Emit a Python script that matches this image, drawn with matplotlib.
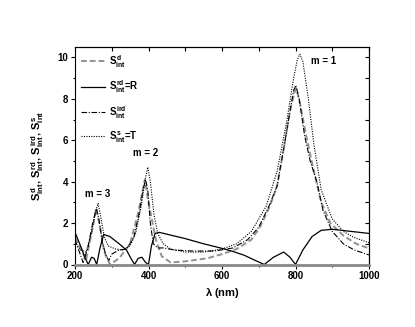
import matplotlib
matplotlib.use("Agg")
import matplotlib.pyplot as plt
from matplotlib.ticker import MultipleLocator

plt.rcParams['font.family'] = ['Liberation Sans', 'DejaVu Sans']
plt.rcParams['font.weight'] = 'bold'
plt.rcParams['mathtext.fontset'] = 'custom'
plt.rcParams['mathtext.rm'] = 'Liberation Sans:bold'
plt.rcParams['mathtext.it'] = 'Liberation Sans:bold'
plt.rcParams['mathtext.bf'] = 'Liberation Sans:bold'

# S_int^d (gray dashed)
lam_d = [200, 215, 230, 245, 258, 268, 280, 295, 320, 350, 372, 390, 400, 420, 436, 460, 500,
         560, 600, 640, 680, 703, 730, 750, 770, 785, 797, 802, 812, 828, 850, 870, 895, 930, 965, 1000]
val_d = [1.3, 0.8, 0.2, 1.5, 2.7, 1.8, 0.6, 0.0, 0.3, 1.0, 2.5, 4.1, 3.0, 1.2, 0.4, 0.1, 0.15,
         0.3, 0.5, 0.75, 1.2, 1.8, 2.8, 3.8, 5.8, 7.4, 8.3, 8.5, 7.8, 6.3, 4.5, 3.0, 2.0, 1.4, 1.0, 0.78]

# S_int^rd = R (solid black)
lam_r = [200, 215, 228, 236, 245, 252, 259, 268, 278, 295, 320, 340, 352, 362, 372, 382, 392, 400,
         408, 418, 430, 460, 500, 550, 600, 626, 660, 690, 715, 740, 768, 785, 800, 820, 845, 870,
         900, 950, 1000]
val_r = [1.55, 0.9, 0.3, 0.0, 0.35, 0.3, 0.0, 0.8, 1.45, 1.35, 1.0, 0.7, 0.3, 0.0, 0.3, 0.35, 0.1, 0.0,
         0.9, 1.5, 1.55, 1.42, 1.25, 1.0, 0.78, 0.65, 0.45, 0.2, 0.0, 0.35, 0.6, 0.35, 0.0, 0.7, 1.35, 1.65,
         1.7, 1.6, 1.5]

# S_int^ird (dash-dot black)
lam_i = [200, 212, 222, 235, 248, 258, 265, 275, 285, 292, 300, 320, 340, 360, 375, 385, 392, 398,
         405, 413, 425, 440, 470, 520, 580, 630, 670, 700, 730, 750, 770, 785, 795, 801, 810, 825,
         840, 858, 875, 900, 930, 960, 1000]
val_i = [1.2, 0.6, 0.1, 0.8, 2.0, 2.7, 2.2, 1.0, 0.4, 0.2, 0.5, 0.7, 0.75, 1.3, 2.5, 3.6, 4.1, 3.6,
         2.0, 1.0, 0.8, 0.8, 0.7, 0.65, 0.65, 0.8, 1.2, 1.8, 2.9, 3.8, 5.8, 7.4, 8.4, 8.65, 8.0, 6.2,
         5.0, 4.0, 2.6, 1.6, 1.0, 0.7, 0.46]

# S_int^s = T (dotted black)
lam_t = [200, 215, 230, 245, 255, 263, 270, 280, 290, 310, 330, 350, 365, 380, 392, 398, 405, 415,
         425, 440, 460, 500, 550, 600, 640, 680, 720, 750, 775, 795, 805, 812, 820, 835, 850, 870,
         900, 930, 960, 1000]
val_t = [1.1, 0.7, 0.6, 1.5, 2.5, 2.95, 2.3, 1.3, 0.9, 0.75, 0.7, 0.9, 1.5, 2.8, 4.2, 4.7, 4.0, 2.4,
         1.5, 1.0, 0.75, 0.6, 0.6, 0.75, 1.0, 1.6, 2.8, 4.5, 6.8, 9.0, 9.9, 10.15, 9.8, 8.0, 5.8, 3.6,
         2.2, 1.6, 1.3, 1.05]

labels = [r'$S^{d}_{int}$', r'$S^{rd}_{int}$=R', r'$S^{ird}_{int}$', r'$S^{s}_{int}$=T']
annotations = [('m = 1', 875, 9.8), ('m = 2', 393, 5.4), ('m = 3', 261, 3.4)]

fig = plt.figure(figsize=(4.15, 3.27), dpi=100)
ax = fig.add_axes([75/415, 1-264.5/327, (369-75)/415, (264.5-47)/327])

ax.plot(lam_d, val_d, color='#909090', lw=1.4, ls=(0, (3, 1.5)), label=labels[0])
ax.plot(lam_r, val_r, color='black', lw=0.9, ls='-', label=labels[1])
ax.plot(lam_i, val_i, color='black', lw=0.8, ls=(0, (5, 1.5, 1, 1.5)), label=labels[2])
ax.plot(lam_t, val_t, color='black', lw=0.8, ls=(0, (1, 1.2)), label=labels[3])

for txt, x, y in annotations:
    ax.text(x, y, txt, ha='center', va='center', fontsize=7, fontweight='bold')

ax.set_xlim(200, 1000)
ax.set_ylim(0, 10.5)
ax.xaxis.set_major_locator(MultipleLocator(200))
ax.xaxis.set_minor_locator(MultipleLocator(100))
ax.yaxis.set_major_locator(MultipleLocator(2))
ax.yaxis.set_minor_locator(MultipleLocator(1))
ax.tick_params(axis='both', which='major', labelsize=7, direction='out', length=3, width=0.8, pad=2)
ax.tick_params(axis='both', which='minor', direction='out', length=1.5, width=0.8)
for lab in ax.get_xticklabels() + ax.get_yticklabels():
    lab.set_fontweight('bold')

ax.spines['bottom'].set_color('#888888')
ax.spines['bottom'].set_linewidth(2)

sec_x = ax.secondary_xaxis('top')
sec_x.xaxis.set_major_locator(MultipleLocator(100))
sec_x.tick_params(direction='in', length=3, labeltop=False, width=0.8)
sec_y = ax.secondary_yaxis('right')
sec_y.yaxis.set_major_locator(MultipleLocator(1))
sec_y.tick_params(direction='in', length=3, labelright=False, width=0.8)

ax.set_xlabel(r'$\lambda$ (nm)', fontsize=8, fontweight='bold', labelpad=3)
ax.set_ylabel(r'$S^{d}_{int}$, $S^{rd}_{int}$, $S^{ird}_{int}$, $S^{s}_{int}$', fontsize=8,
              fontweight='bold', labelpad=8)

ax.legend(loc='upper left', frameon=False, fontsize=7, handlelength=2.5, handletextpad=0.4,
          labelspacing=0.9, borderaxespad=0.2, bbox_to_anchor=(0.0, 1.0))

fig.savefig('out.png', dpi=100)
